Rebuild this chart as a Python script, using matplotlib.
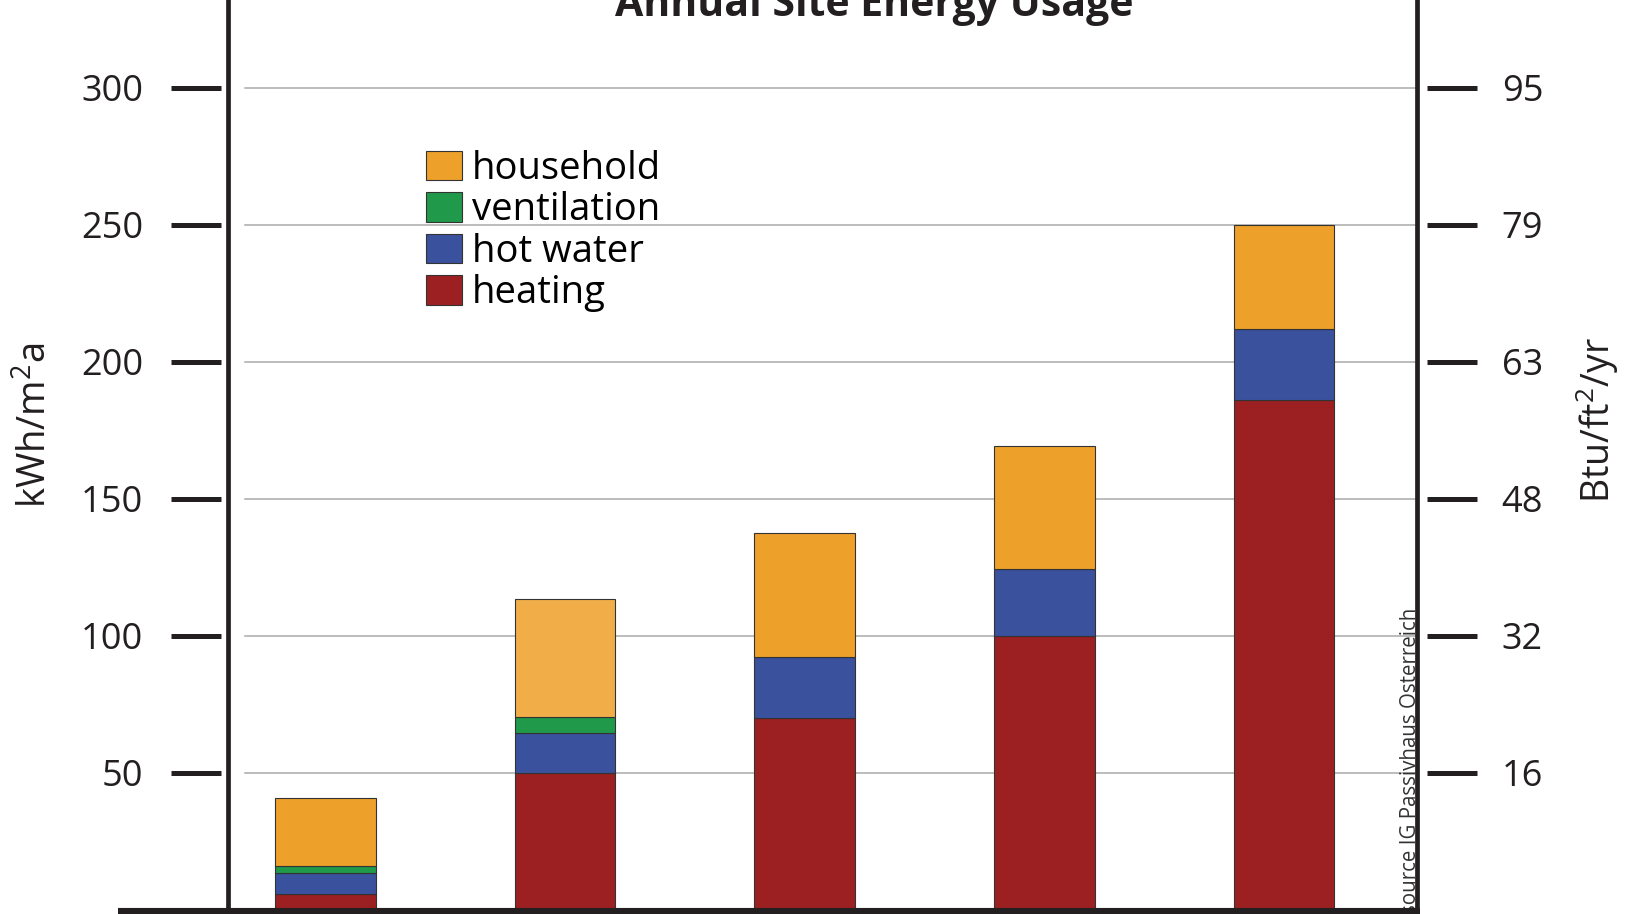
import matplotlib.pyplot as plt
import numpy as np
from matplotlib.lines import Line2D

plt.rcParams['font.family'] = ['Open Sans', 'DejaVu Sans']
plt.rcParams['mathtext.fontset'] = 'custom'
plt.rcParams['mathtext.rm'] = 'Open Sans'

# annual site energy per building type, kWh/m2a, stacked bottom to top
heating = [6, 50, 70, 100, 186]
hot_water = [7.5, 14.5, 22.5, 24.5, 26]
ventilation = [2.5, 6, 0, 0, 0]
household = [25, 43, 45, 45, 38]

kwh_ticks = [50, 100, 150, 200, 250, 300]
btu_labels = ['16', '32', '48', '63', '79', '95']

INK = '#231f20'
RED = '#9c1f22'
BLUE = '#3a529e'
GREEN = '#20994a'
ORANGE = '#eda02a'
household_colors = [ORANGE, '#f1ae48', ORANGE, ORANGE, ORANGE]

fig = plt.figure(figsize=(16.25, 9.14), dpi=100)
ax = fig.add_axes([0.1403, 0.0044, 0.7317, 1.0193])
x = np.arange(len(heating))
width = 0.42

bottom = np.zeros(len(x))
layers = [
    (heating, RED, 'heating'),
    (hot_water, BLUE, 'hot water'),
    (ventilation, GREEN, 'ventilation'),
    (household, household_colors, 'household'),
]
handles = []
for vals, col, name in layers:
    b = ax.bar(x, vals, width, bottom=bottom, color=col, edgecolor='#333333',
               linewidth=0.8, zorder=3, label=name)
    handles.append(b)
    bottom += np.array(vals)

ax.set_xlim(-0.407, 4.555)
ax.set_ylim(0, 340)
ax.set_xticks([])

# light horizontal guides, starting a little right of the axis line
for t in kwh_ticks:
    ax.axhline(t, xmin=0.014, xmax=1, color='#aaaaaa', lw=1.1, zorder=1)

# ticks sit slightly detached from the axis lines
ax.spines['left'].set_position(('outward', 5))
for s in ax.spines.values():
    s.set_color('none')
ax.set_yticks(kwh_ticks)
ax.tick_params(axis='y', direction='out', length=36, width=3.6, color=INK,
               pad=20, labelsize=26, labelcolor=INK)

ax2 = ax.twinx()
ax2.set_ylim(ax.get_ylim())
ax2.patch.set_visible(False)
ax2.spines['right'].set_position(('outward', 7))
for s in ax2.spines.values():
    s.set_color('none')
ax2.set_yticks(kwh_ticks, labels=btu_labels)
ax2.tick_params(axis='y', direction='out', length=36, width=3.6, color=INK,
                pad=18, labelsize=26, labelcolor=INK)

# the actual axis lines
for xa in (0, 1):
    ax.plot([xa, xa], [0, 1], transform=ax.transAxes, color=INK, lw=3.4,
            clip_on=False, zorder=6, solid_capstyle='butt')
fig.add_artist(Line2D([118 / 1625, 1420 / 1625], [1 - 911 / 914] * 2,
                      color=INK, lw=4.4, solid_capstyle='butt'))

ax.legend(handles[::-1], [h.get_label() for h in handles[::-1]],
          loc='upper left', bbox_to_anchor=(426 / 1625, 1 - 150 / 914),
          bbox_transform=fig.transFigure, frameon=False, fontsize=27.5,
          handlelength=0.94, handleheight=0.81, handletextpad=0.27,
          labelspacing=0.09, borderpad=0, borderaxespad=0)

fig.text(874 / 1625, 1 - 16 / 914, 'Annual Site Energy Usage', ha='center',
         va='baseline', fontsize=29.5, fontweight='bold', color=INK)
fig.text(36 / 1625, 1 - 425 / 914, r'kWh/m$^{\mathrm{2}}$a', rotation=90,
         ha='center', va='center', fontsize=27.5, color=INK)
fig.text(1597 / 1625, 1 - 420 / 914, r'Btu/ft$^{\mathrm{2}}$/yr', rotation=90,
         ha='center', va='center', fontsize=27, color=INK)
fig.text(1421 / 1625, 0.0, 'source IG Passivhaus Osterreich', rotation=90,
         ha='right', va='bottom', fontsize=14.8, color='#333333', zorder=1)

fig.savefig('out.png', dpi=100)
